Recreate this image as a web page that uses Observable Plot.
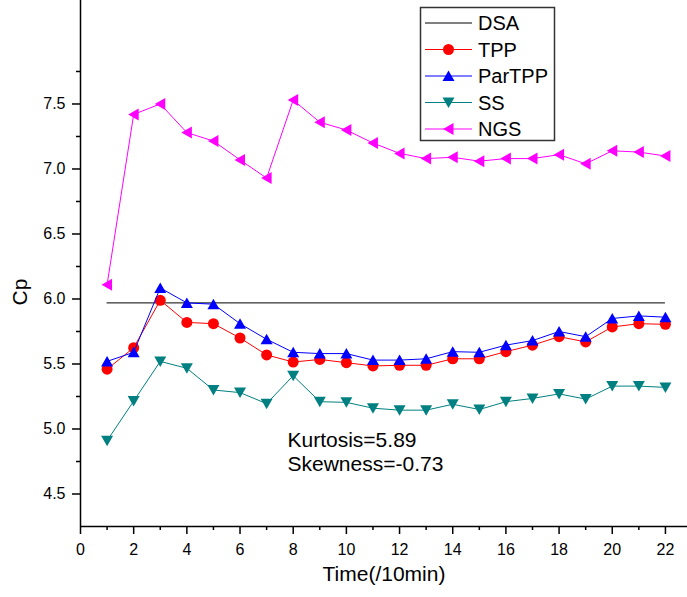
<!DOCTYPE html>
<html>
<head>
<meta charset="utf-8">
<script src="https://cdn.jsdelivr.net/npm/d3@7"></script>
<script src="https://cdn.jsdelivr.net/npm/@observablehq/plot@0.6"></script>
<style>
  html, body { margin: 0; padding: 0; background: #fff; }
  svg { display: block; }
</style>
</head>
<body>
<div id="chart"></div>
<script>
// ---- data ----
const time = [1,2,3,4,5,6,7,8,9,10,11,12,13,14,15,16,17,18,19,20,21,22];
const dsa = 5.97;
const tpp = [5.46,5.625,5.99,5.82,5.81,5.70,5.57,5.515,5.535,5.51,5.485,5.49,5.49,5.54,5.54,5.595,5.645,5.71,5.67,5.785,5.81,5.805];
const parTpp = [5.52,5.59,6.085,5.97,5.96,5.81,5.69,5.59,5.58,5.58,5.53,5.53,5.54,5.595,5.59,5.645,5.68,5.75,5.71,5.85,5.87,5.86];
const ss = [4.91,5.215,5.52,5.467,5.30,5.28,5.195,5.41,5.21,5.205,5.16,5.145,5.145,5.19,5.15,5.21,5.235,5.27,5.23,5.33,5.33,5.32];
const ngs = [6.11,7.42,7.50,7.28,7.215,7.07,6.93,7.53,7.36,7.30,7.20,7.12,7.08,7.09,7.06,7.08,7.08,7.11,7.04,7.14,7.13,7.10];
const seriesNames = ["DSA","TPP","ParTPP","SS","NGS"];
const seriesColors = ["#000000","#ff0000","#0000ff","#008080","#ff00ff"];
const xMajor = [0,2,4,6,8,10,12,14,16,18,20,22];
const xMinor = [1,3,5,7,9,11,13,15,17,19,21];
const yMajor = [4.5,5.0,5.5,6.0,6.5,7.0,7.5];
const yMinor = [4.75,5.25,5.75,6.25,6.75,7.25,7.75];
const xLabel = "Time(/10min)";
const yLabel = "Cp";
const note = "Kurtosis=5.89\nSkewness=-0.73";

// ---- symbols ----
const triUp = {draw(c){ c.moveTo(0,-5.5); c.lineTo(6,5); c.lineTo(-6,5); c.closePath(); }};
const triDown = {draw(c){ c.moveTo(0,5.5); c.lineTo(6,-5); c.lineTo(-6,-5); c.closePath(); }};
const triLeft = {draw(c){ c.moveTo(-5.5,0); c.lineTo(5,-6); c.lineTo(5,6); c.closePath(); }};
const circ = {draw(c){ c.moveTo(5.5,0); c.arc(0,0,5.5,0,2*Math.PI); c.closePath(); }};

const rows = (vals) => time.map((t,i) => ({t, v: vals[i]}));
const series = [
  {name: "NGS", vals: ngs, color: "#ff00ff", sym: triLeft},
  {name: "SS", vals: ss, color: "#008080", sym: triDown},
  {name: "TPP", vals: tpp, color: "#ff0000", sym: circ},
  {name: "ParTPP", vals: parTpp, color: "#0000ff", sym: triUp}
];

const marks = [
  Plot.ruleY([dsa], {x1: time[0], x2: time[time.length-1], stroke: "#000", strokeWidth: 1})
];
for (const s of series) {
  const d = rows(s.vals);
  marks.push(Plot.line(d, {x: "t", y: "v", stroke: s.color, strokeWidth: 1}));
  marks.push(Plot.dot(d, {x: "t", y: "v", symbol: s.sym, fill: s.color, stroke: "none", r: 5}));
}

marks.push(
  Plot.ruleY([4.25], {stroke: "#000", strokeWidth: 1.5}),
  Plot.ruleX([0], {stroke: "#000", strokeWidth: 1.5}),
  Plot.axisX({ticks: xMajor, tickSize: 8, tickPadding: 9, fontSize: 16, label: null, tickFormat: d => String(d), strokeWidth: 1.5}),
  Plot.axisX({ticks: xMinor, tickSize: 4, label: null, tickFormat: () => "", strokeWidth: 1.5}),
  Plot.axisY({ticks: yMajor, tickSize: 8, tickPadding: 7, fontSize: 16, label: null, tickFormat: d => d.toFixed(1), strokeWidth: 1.5}),
  Plot.axisY({ticks: yMinor, tickSize: 4, label: null, tickFormat: () => "", strokeWidth: 1.5}),
  Plot.text([yLabel], {frameAnchor: "left", dx: -60, dy: 42, rotate: -90, fontSize: 21, fill: "#000"}),
  Plot.text([xLabel], {frameAnchor: "bottom", dy: 54, fontSize: 21, fill: "#000"}),
  Plot.text([note], {frameAnchor: "bottom-left", dx: 207, dy: -56, textAnchor: "start", lineHeight: 1.14, fontSize: 21, fill: "#000"})
);

const svg = Plot.plot({
  width: 687,
  height: 597,
  marginLeft: 80,
  marginRight: 0,
  marginTop: 0,
  marginBottom: 71,
  x: {domain: [0, 22.83]},
  y: {domain: [4.25, 8.296]},
  style: {fontFamily: "'Liberation Sans', Arial, sans-serif", background: "#fff", color: "#000"},
  marks
});
document.getElementById("chart").appendChild(svg);

// ---- legend ----
const symByName = {TPP: circ, ParTPP: triUp, SS: triDown, NGS: triLeft};
const lg = d3.select(svg).append("g")
  .attr("font-family", "'Liberation Sans', Arial, sans-serif")
  .attr("text-anchor", "start");
lg.append("rect").attr("x", 420.5).attr("y", 7.5).attr("width", 134).attr("height", 133)
  .attr("fill", "#fff").attr("stroke", "#333").attr("stroke-width", 1.5);
seriesNames.forEach((name, i) => {
  const y = 23 + i * 26.5;
  const color = seriesColors[i];
  lg.append("line").attr("x1", 425).attr("x2", 472).attr("y1", y).attr("y2", y)
    .attr("stroke", color).attr("stroke-width", 1);
  if (symByName[name]) {
    const p = d3.path();
    symByName[name].draw(p);
    lg.append("path").attr("d", p.toString()).attr("transform", `translate(448.5,${y})`).attr("fill", color);
  }
  lg.append("text").attr("x", 478).attr("y", y).attr("dy", "0.35em")
    .attr("text-anchor", "start")
    .attr("font-size", 20).attr("fill", "#000").text(name);
});
</script>
</body>
</html>
